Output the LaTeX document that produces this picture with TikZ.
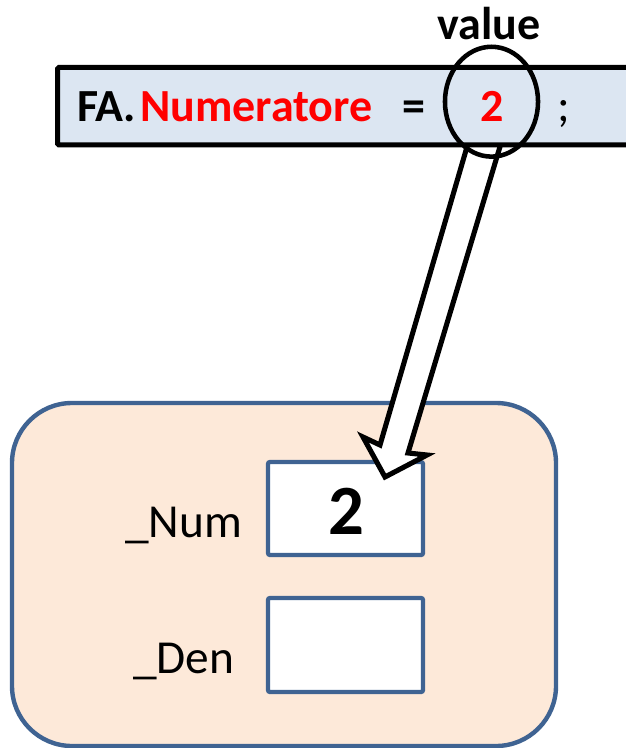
\documentclass[tikz,border=0pt]{standalone}
\usepackage{fontspec}
\setmainfont{Carlito}
\definecolor{barfill}{HTML}{DCE6F2}
\definecolor{peach}{HTML}{FDE9D9}
\definecolor{boxblue}{HTML}{3F6392}
\definecolor{red}{HTML}{FF0000}
\tikzset{
  txt/.style={inner sep=0pt, anchor=base west, font=\fontsize{35.5pt}{40pt}\selectfont},
  btxt/.style={inner sep=0pt, anchor=base west, font=\fontsize{34.5pt}{40pt}\selectfont\bfseries},
  field/.style={draw=boxblue, line width=3.2pt, fill=white, rounded corners=1.5pt},
  blockarrow/.style={draw=black, line width=3.8pt, fill=white, miter limit=10},
}
\begin{document}
\begin{tikzpicture}[x=0.75pt, y=-0.75pt]
\useasboundingbox (0,0) rectangle (625,748);
% object
\draw[draw=boxblue, fill=peach, line width=3.3pt, rounded corners=45pt] (12,403) rectangle (556,746);
\draw[field] (268,462) rectangle (423,555);
\draw[field] (268,598) rectangle (423,692);
\node[txt] (num) at (125,537) {\_Num};
\node[txt] (den) at (133,673) {\_Den};
\node[inner sep=0pt, anchor=base, font=\fontsize{53pt}{60pt}\selectfont\bfseries] (val2) at (346,534) {2};
% block arrow
\coordinate (a1) at (469,140);
\coordinate (a2) at (380,445);
\coordinate (a3) at (363,437);
\coordinate (tip) at (385,477);
\coordinate (a5) at (427,455);
\coordinate (a6) at (408,453);
\coordinate (a7) at (502,140);
\draw[blockarrow] (a1) -- (a2) -- (a3) -- (tip) -- (a5) -- (a6) -- (a7);
% statement bar
\draw[fill=barfill, line width=3.75pt, rounded corners=1pt] (57.5,67.5) rectangle (640,145);
\node[btxt] (fa) at (77,121.5) {FA.};
\node[btxt, text=red] (numer) at (140,121.5) {Numeratore};
\node[btxt, anchor=base] (eq) at (414,121.5) {=};
\node[btxt, anchor=base, text=red] (two) at (492,121.5) {2};
\node[txt, anchor=base] (semi) at (564,121.5) {;};
\draw[line width=3.4pt] (491.5,101.7) ellipse [x radius=34.9pt, y radius=41.2pt];
\node[btxt, anchor=base] (value) at (489,40) {value};
\end{tikzpicture}
\end{document}
